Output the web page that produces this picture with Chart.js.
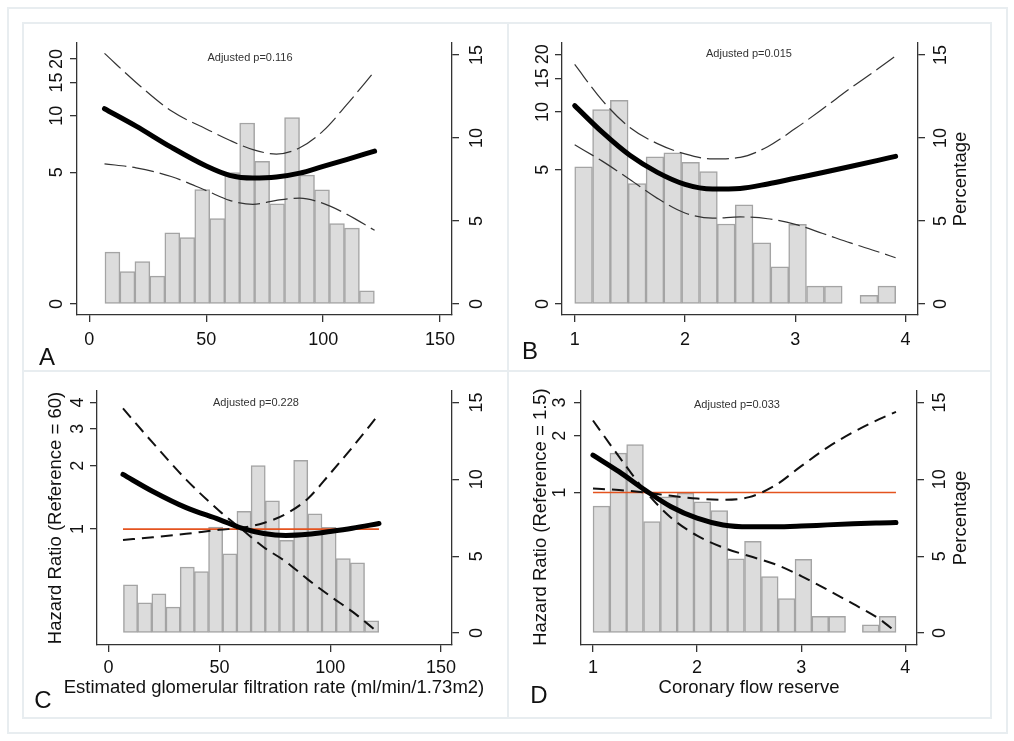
<!DOCTYPE html>
<html>
<head>
<meta charset="utf-8">
<script src="https://cdn.jsdelivr.net/npm/chart.js@4.4.1/dist/chart.umd.min.js"></script>
<style>
  body { margin: 0; background: #fff; font-family: "Liberation Sans", Arial, sans-serif; }
  #fig { position: relative; width: 1014px; height: 741px; overflow: hidden; background: #fff; }
  .frame { position: absolute; box-sizing: border-box; border: 2px solid #e8edf0; }
  .rule { position: absolute; background: #e8edf0; }
  canvas { position: absolute; }
  .txt { position: absolute; transform: translate(-50%, -50%); white-space: nowrap; color: #111; line-height: 1; }
  .letter { font-size: 24px; }
  .pval { font-size: 11px; color: #333; }
  .title { font-size: 18.5px; }
  .vert { font-size: 18.5px; transform: translate(-50%, -50%) rotate(-90deg); }
</style>
</head>
<body>
<div id="fig">
  <div class="frame" style="left:7px;top:7px;width:1001px;height:727px;"></div>
  <div class="frame" style="left:22px;top:22px;width:970px;height:697px;"></div>
  <div class="rule" style="left:507px;top:23px;width:2px;height:695px;"></div>
  <div class="rule" style="left:23px;top:370px;width:968px;height:2px;"></div>

  <canvas id="chartA" width="485" height="348" style="left:23px;top:23px;"></canvas>
  <canvas id="chartB" width="483" height="348" style="left:508px;top:23px;"></canvas>
  <canvas id="chartC" width="485" height="347" style="left:23px;top:371px;"></canvas>
  <canvas id="chartD" width="483" height="347" style="left:508px;top:371px;"></canvas>

  <div class="txt pval" style="left:250px;top:57px;">Adjusted p=0.116</div>
  <div class="txt pval" style="left:749px;top:53px;">Adjusted p=0.015</div>
  <div class="txt pval" style="left:256px;top:402px;">Adjusted p=0.228</div>
  <div class="txt pval" style="left:737px;top:404px;">Adjusted p=0.033</div>

  <div class="txt vert" style="left:960px;top:179px;">Percentage</div>
  <div class="txt vert" style="left:960px;top:518px;">Percentage</div>
  <div class="txt vert" style="left:55px;top:518px;">Hazard Ratio (Reference = 60)</div>
  <div class="txt vert" style="left:540px;top:517px;">Hazard Ratio (Reference = 1.5)</div>
  <div class="txt title" style="left:274px;top:687px;">Estimated glomerular filtration rate (ml/min/1.73m2)</div>
  <div class="txt title" style="left:749px;top:687px;">Coronary flow reserve</div>

  <div class="txt letter" style="left:47px;top:357px;">A</div>
  <div class="txt letter" style="left:530px;top:351px;">B</div>
  <div class="txt letter" style="left:43px;top:700px;">C</div>
  <div class="txt letter" style="left:539px;top:695px;">D</div>
</div>

<script>
/* ---------------- DATA ---------------- */
// histogram bins (bin centres) and percentages
const egfrBins = [9.9, 16.3, 22.7, 29.1, 35.5, 41.9, 48.3, 54.7, 61.1, 67.5, 73.9, 80.3, 86.7, 93.1, 99.5, 105.9, 112.3, 118.7];
const egfrPct  = [3.13, 1.96, 2.55, 1.68, 4.29, 4.0, 6.9, 5.15, 7.92, 10.9, 8.6, 6.03, 11.23, 7.76, 6.88, 4.85, 4.57, 0.8];

const cfrBins = [1.081, 1.243, 1.404, 1.566, 1.728, 1.889, 2.051, 2.213, 2.374, 2.536, 2.698, 2.860, 3.021, 3.183, 3.345, 3.506, 3.668, 3.830];
const cfrPct  = [8.26, 11.71, 12.27, 7.25, 8.87, 9.1, 8.53, 7.97, 4.82, 5.97, 3.68, 2.24, 4.8, 1.08, 1.08, null, 0.53, 1.08];

// spline curves (hazard ratio, with lower / upper 95% CI)
const egfrGrid = [6.5, 20, 35, 50, 60, 70, 80, 90, 100, 110, 122];
const hrA      = [10.88, 8.8, 6.8, 5.4, 4.82, 4.66, 4.72, 4.95, 5.38, 5.84, 6.48];
const hrALow   = [5.55, 5.28, 4.75, 4.0, 3.55, 3.38, 3.55, 3.65, 3.42, 3.0, 2.46];
const hrAHigh  = [21.4, 15.0, 10.6, 8.5, 7.4, 6.6, 6.25, 6.75, 8.3, 11.4, 17.2];

const hrC      = [1.82, 1.51, 1.265, 1.11, 1.01, 0.953, 0.933, 0.945, 0.975, 1.01, 1.063];
const hrCLow   = [0.887, 0.915, 0.95, 0.992, 1.015, 1.07, 1.18, 1.4, 1.84, 2.45, 3.52];
const hrCHigh  = [3.75, 2.57, 1.72, 1.22, 1.0, 0.82, 0.70, 0.575, 0.48, 0.405, 0.32];

const cfrGrid  = [1.0, 1.25, 1.5, 1.75, 2.0, 2.25, 2.5, 2.75, 3.0, 3.25, 3.5, 3.75, 3.91];
const hrB      = [10.8, 7.85, 5.95, 4.85, 4.2, 3.97, 4.0, 4.22, 4.52, 4.84, 5.2, 5.6, 5.88];
const hrBLow   = [6.75, 5.55, 4.45, 3.55, 2.98, 2.8, 2.84, 2.78, 2.6, 2.33, 2.08, 1.87, 1.74];
const hrBHigh  = [17.7, 11.5, 8.3, 6.85, 6.05, 5.7, 5.8, 6.6, 8.2, 10.4, 13.3, 16.8, 19.6];

const hrD      = [1.58, 1.29, 1.03, 0.84, 0.73, 0.672, 0.657, 0.657, 0.663, 0.673, 0.682, 0.689, 0.693];
const hrDLow   = [1.05, 1.03, 1.0, 0.96, 0.928, 0.915, 0.945, 1.09, 1.38, 1.73, 2.09, 2.45, 2.68];
const hrDHigh  = [2.41, 1.55, 1.02, 0.735, 0.59, 0.51, 0.46, 0.416, 0.36, 0.305, 0.256, 0.213, 0.182];

const refHR = 1;

// tick values and labels
const egfrTicks = [0, 50, 100, 150];
const cfrTicks  = [1, 2, 3, 4];
const pctTicks  = [0, 5, 10, 15];
const hrTicksTop       = [1, 5, 10, 15, 20];
const hrTickLabelsTop  = ['0', '5', '10', '15', '20'];
const hrTicksC  = [1, 2, 3, 4];
const hrTicksD  = [1, 2, 3];

/* ---------------- HELPERS ---------------- */
const FONT = '"Liberation Sans", Arial, sans-serif';
const INK = '#333';

function pts(xs, ys) {
  return xs.map((x, i) => ({ x: x, y: ys[i] }));
}

function fixedTicks(vals) {
  return (scale) => { scale.ticks = vals.map(v => ({ value: v })); };
}

function axisLook() {
  return {
    grid: { drawOnChartArea: false, drawTicks: true, tickLength: 7, tickColor: INK, tickWidth: 1.3, color: INK, lineWidth: 1.3, offset: false },
    border: { display: true, color: INK, width: 1.3 }
  };
}

function makePanel(id, p) {
  const ctx = document.getElementById(id).getContext('2d');
  const thin = p.bottomRow
    ? { borderColor: '#111', borderWidth: 2, borderDash: [12, 7] }
    : { borderColor: '#333', borderWidth: 1.2, borderDash: [22, 6] };

  const datasets = [
    { type: 'line', data: pts(p.grid, p.hr), yAxisID: 'yL', borderColor: '#000', borderWidth: 5,
      borderCapStyle: 'round', pointRadius: 0, cubicInterpolationMode: 'monotone', order: 1 },
    Object.assign({ type: 'line', data: pts(p.grid, p.low), yAxisID: 'yL', pointRadius: 0,
      cubicInterpolationMode: 'monotone', order: 1 }, thin),
    Object.assign({ type: 'line', data: pts(p.grid, p.high), yAxisID: 'yL', pointRadius: 0,
      cubicInterpolationMode: 'monotone', order: 1 }, thin),
    { type: 'bar', data: pts(p.bins, p.pct), yAxisID: 'yR', backgroundColor: '#dcdcdc', borderColor: '#a4a4a4',
      borderWidth: 1.5, borderSkipped: false, barPercentage: 1, categoryPercentage: 1, order: 3 }
  ];
  if (p.bottomRow) {
    const ends = [p.grid[0], p.grid[p.grid.length - 1]];
    datasets.push({ type: 'line', data: pts(ends, [refHR, refHR]), yAxisID: 'yL', borderColor: '#e4531f',
      borderWidth: 1.6, pointRadius: 0, order: 2 });
  }

  const tickFont = { family: FONT, size: 18 };

  return new Chart(ctx, {
    type: 'bar',
    data: { datasets: datasets },
    options: {
      responsive: false,
      animation: false,
      events: [],
      layout: { padding: { top: p.padTop, left: 0, right: 0, bottom: 0 }, autoPadding: false },
      plugins: { legend: { display: false }, tooltip: { enabled: false } },
      scales: {
        x: Object.assign({
          type: 'linear', position: 'bottom', min: p.xMin, max: p.xMax, offset: false, bounds: 'data',
          afterBuildTicks: fixedTicks(p.xTicks),
          afterFit: (s) => { s.height = p.xH; },
          ticks: { font: tickFont, color: '#111', padding: p.xPad, autoSkip: false, maxRotation: 0, callback: v => String(v) }
        }, axisLook()),
        yL: Object.assign({
          type: 'logarithmic', position: 'left', min: p.lMin, max: p.lMax, bounds: 'data',
          afterBuildTicks: fixedTicks(p.lTicks),
          afterFit: (s) => { s.width = p.lW; },
          ticks: { font: tickFont, color: '#111', padding: p.lPad, autoSkip: false, minRotation: 90, maxRotation: 90,
                   crossAlign: 'center', callback: (v, i) => p.lLabels[i] }
        }, axisLook()),
        yR: Object.assign({
          type: 'linear', position: 'right', min: p.rMin, max: p.rMax, bounds: 'data',
          afterBuildTicks: fixedTicks(pctTicks),
          afterFit: (s) => { s.width = p.rW; },
          ticks: { font: tickFont, color: '#111', padding: p.rPad, autoSkip: false, minRotation: 90, maxRotation: 90,
                   crossAlign: 'center', callback: v => String(v) }
        }, axisLook())
      }
    }
  });
}

/* ---------------- PANELS ---------------- */
makePanel('chartA', {
  grid: egfrGrid, hr: hrA, low: hrALow, high: hrAHigh, bins: egfrBins, pct: egfrPct,
  xMin: -5.26, xMax: 155.1, xTicks: egfrTicks,
  lMin: 0.874, lMax: 24.3, lTicks: hrTicksTop, lLabels: hrTickLabelsTop,
  rMin: -0.66, rMax: 15.72,
  lW: 54, rW: 56, xH: 56, padTop: 20, lPad: 3, rPad: 8, xPad: 7
});

makePanel('chartB', {
  grid: cfrGrid, hr: hrB, low: hrBLow, high: hrBHigh, bins: cfrBins, pct: cfrPct,
  xMin: 0.885, xMax: 4.113, xTicks: cfrTicks,
  lMin: 0.876, lMax: 22.9, lTicks: hrTicksTop, lLabels: hrTickLabelsTop,
  rMin: -0.66, rMax: 15.72,
  lW: 54, rW: 73, xH: 56, padTop: 20, lPad: 1.5, rPad: 5.6, xPad: 7
});

makePanel('chartC', {
  bottomRow: true,
  grid: egfrGrid, hr: hrC, low: hrCLow, high: hrCHigh, bins: egfrBins, pct: egfrPct,
  xMin: -5.23, xMax: 154.96, xTicks: egfrTicks,
  lMin: 0.281, lMax: 4.54, lTicks: hrTicksC, lLabels: hrTicksC.map(String),
  rMin: -0.78, rMax: 15.75,
  lW: 74, rW: 56, xH: 73, padTop: 20, lPad: 7.4, rPad: 8, xPad: 5
});

makePanel('chartD', {
  bottomRow: true,
  grid: cfrGrid, hr: hrD, low: hrDLow, high: hrDHigh, bins: cfrBins, pct: cfrPct,
  xMin: 0.885, xMax: 4.112, xTicks: cfrTicks,
  lMin: 0.155, lMax: 3.457, lTicks: hrTicksD, lLabels: hrTicksD.map(String),
  rMin: -0.78, rMax: 15.75,
  lW: 73, rW: 74, xH: 73, padTop: 20, lPad: 8.7, rPad: 6, xPad: 5
});
</script>
</body>
</html>
